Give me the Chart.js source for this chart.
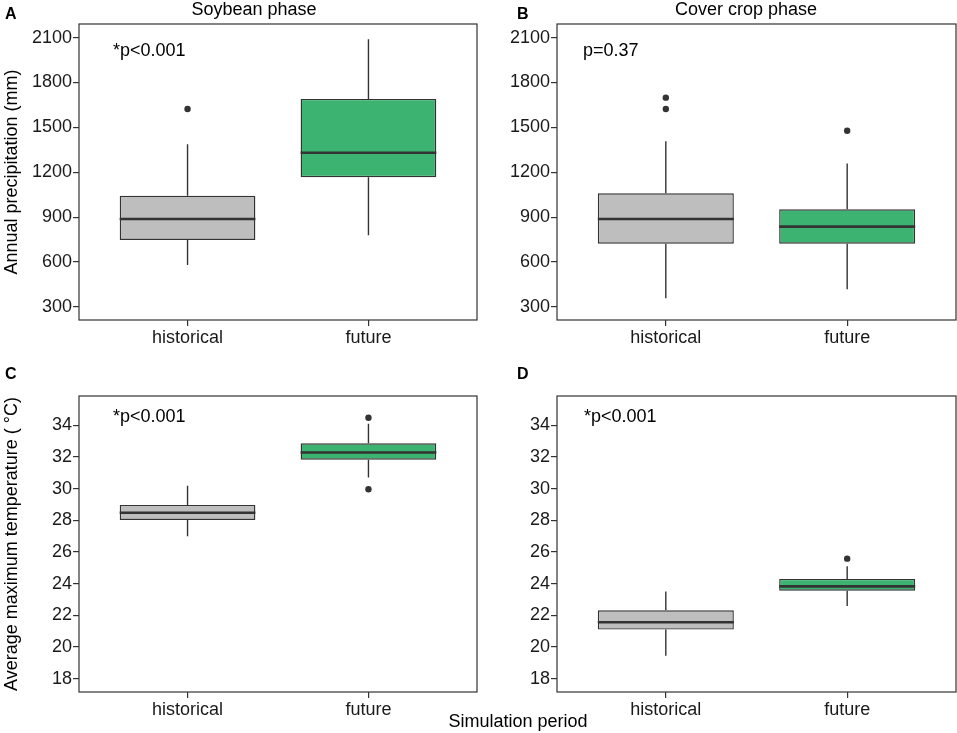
<!DOCTYPE html>
<html>
<head>
<meta charset="utf-8">
<script src="https://cdn.jsdelivr.net/npm/chart.js@4.4.1/dist/chart.umd.min.js"></script>
<style>
	body { margin: 0; background: #fff; }
	#fig { position: relative; width: 957px; height: 733px; background: #fff; font-family: "Liberation Sans", Arial, sans-serif; color: #000; }
	#fig canvas { position: absolute; }
	.txt { position: absolute; font-size: 18px; line-height: 18px; white-space: nowrap; }
	.tag { position: absolute; font-size: 16px; line-height: 16px; font-weight: bold; }
	.rot { position: absolute; width: 400px; text-align: center; font-size: 18px; line-height: 18px; transform: rotate(-90deg); white-space: nowrap; }
</style>
</head>
<body>
<div id="fig">
	<canvas id="cA" width="478" height="352" style="left:0;top:0"></canvas>
	<canvas id="cB" width="479" height="352" style="left:478px;top:0"></canvas>
	<canvas id="cC" width="478" height="381" style="left:0;top:352px"></canvas>
	<canvas id="cD" width="479" height="381" style="left:478px;top:352px"></canvas>

	<div class="tag" style="left:5px;top:6px">A</div>
	<div class="tag" style="left:517px;top:6px">B</div>
	<div class="tag" style="left:5px;top:366px">C</div>
	<div class="tag" style="left:517px;top:366px">D</div>

	<div class="txt" style="left:54px;width:400px;text-align:center;top:0">Soybean phase</div>
	<div class="txt" style="left:546px;width:400px;text-align:center;top:0">Cover crop phase</div>

	<div class="rot" style="left:-189px;top:163px">Annual precipitation (mm)</div>
	<div class="rot" style="left:-189px;top:535px">Average maximum temperature ( °C)</div>
	<div class="txt" style="left:318px;width:400px;text-align:center;top:712px">Simulation period</div>
</div>

<script>
// categories on the x axis
const categories = ['historical', 'future'];

// five-number summaries per category: [lower whisker, Q1, median, Q3, upper whisker]
const soyPrecip = [[581, 748, 888, 1044, 1387], [779, 1167, 1331, 1690, 2089]];
const soyPrecipOut = [[1623], []];
const coverPrecip = [[358, 723, 888, 1060, 1407], [418, 723, 837, 953, 1258]];
const coverPrecipOut = [[1623, 1699], [1478]];

const soyTemp = [[26.99, 28.02, 28.48, 28.97, 30.19], [30.7, 31.83, 32.28, 32.86, 34.1]];
const soyTempOut = [[], [29.96, 34.48]];
const coverTemp = [[19.45, 21.1, 21.56, 22.32, 23.5], [22.59, 23.56, 23.83, 24.3, 25.1]];
const coverTempOut = [[], [25.58]];

// tick labels
const precipTicks = [300, 600, 900, 1200, 1500, 1800, 2100];
const tempTicks = [18, 20, 22, 24, 26, 28, 30, 32, 34];

// p-value notes
const pNotes = ['*p<0.001', 'p=0.37', '*p<0.001', '*p<0.001'];

const boxFill = ['#bebebe', '#3cb371'];
const ink = '#333333';

Chart.defaults.font.family = '"Liberation Sans", Arial, sans-serif';
Chart.defaults.font.size = 18;
Chart.defaults.color = '#1a1a1a';

// whiskers under the boxes, median bars and frame on top
var boxPlugin = {
	id: 'boxPlugin',
	beforeDatasetsDraw: function(chart) {
		var ctx = chart.ctx;
		var y = chart.scales.y;
		var stats = chart.options.plugins.boxPlugin.stats;
		var bars = chart.getDatasetMeta(0).data;
		ctx.save();
		ctx.strokeStyle = ink;
		ctx.lineWidth = 1.4;
		bars.forEach(function(bar, i) {
			var s = stats[i];
			ctx.beginPath();
			ctx.moveTo(bar.x, y.getPixelForValue(s[0]));
			ctx.lineTo(bar.x, y.getPixelForValue(s[1]));
			ctx.moveTo(bar.x, y.getPixelForValue(s[3]));
			ctx.lineTo(bar.x, y.getPixelForValue(s[4]));
			ctx.stroke();
		});
		ctx.restore();
	},
	afterDatasetsDraw: function(chart) {
		var ctx = chart.ctx;
		var y = chart.scales.y;
		var opts = chart.options.plugins.boxPlugin;
		var bars = chart.getDatasetMeta(0).data;
		var area = chart.chartArea;
		ctx.save();
		ctx.strokeStyle = ink;
		ctx.lineWidth = 2.6;
		bars.forEach(function(bar, i) {
			var py = y.getPixelForValue(opts.stats[i][2]);
			ctx.beginPath();
			ctx.moveTo(bar.x - bar.width / 2, py);
			ctx.lineTo(bar.x + bar.width / 2, py);
			ctx.stroke();
		});
		ctx.lineWidth = 1.2;
		ctx.strokeRect(area.left, area.top, area.right - area.left, area.bottom - area.top);
		ctx.fillStyle = '#000';
		ctx.font = '18px "Liberation Sans", Arial, sans-serif';
		ctx.textBaseline = 'middle';
		ctx.fillText(opts.note, area.left + opts.noteX, area.top + opts.noteY);
		ctx.restore();
	}
};

function makePanel(canvasId, stats, outliers, yTicks, yMin, yMax, padTop, padRight, note, noteX, noteY) {
	var canvas = document.getElementById(canvasId);
	var plotBottom = padTop + 296;

	var outPoints = [];
	outliers.forEach(function(list, i) {
		list.forEach(function(v) { outPoints.push({ x: i + 1, y: v }); });
	});

	return new Chart(canvas.getContext('2d'), {
		type: 'bar',
		data: {
			datasets: [{
				data: stats.map(function(s, i) { return { x: i + 1, y: [s[1], s[3]] }; }),
				backgroundColor: boxFill,
				borderColor: ink,
				borderWidth: 1.4,
				borderSkipped: false,
				categoryPercentage: 1,
				barPercentage: 0.75,
				order: 2
			}, {
				type: 'scatter',
				data: outPoints,
				pointRadius: 3.2,
				pointBackgroundColor: ink,
				pointBorderWidth: 0,
				order: 1
			}]
		},
		options: {
			responsive: false,
			animation: false,
			layout: { autoPadding: false, padding: { top: padTop, right: padRight, left: 0, bottom: 0 } },
			plugins: {
				legend: { display: false },
				tooltip: { enabled: false },
				boxPlugin: { stats: stats, note: note, noteX: noteX, noteY: noteY }
			},
			scales: {
				x: {
					type: 'linear',
					min: 0.4,
					max: 2.6,
					offset: false,
					border: { display: false },
					grid: { offset: false, drawOnChartArea: false, tickLength: 6, color: ink, lineWidth: 1.2 },
					ticks: {
						padding: 1,
						callback: function(v) { return categories[v - 1]; }
					},
					afterBuildTicks: function(axis) {
						axis.ticks = categories.map(function(c, i) { return { value: i + 1 }; });
					},
					afterFit: function(axis) { axis.height = canvas.height - plotBottom; }
				},
				y: {
					min: yMin,
					max: yMax,
					border: { display: false },
					grid: { drawOnChartArea: false, tickLength: 6, color: ink, lineWidth: 1.2 },
					ticks: {
						padding: 1,
						autoSkip: false,
						callback: function(v) { return String(v); }
					},
					afterBuildTicks: function(axis) {
						axis.ticks = yTicks.map(function(v) { return { value: v }; });
					},
					afterFit: function(axis) { axis.width = 79; }
				}
			}
		},
		plugins: [boxPlugin]
	});
}

makePanel('cA', soyPrecip, soyPrecipOut, precipTicks, 213, 2191, 24, 1, pNotes[0], 34, 27);
makePanel('cB', coverPrecip, coverPrecipOut, precipTicks, 213, 2191, 24, 1, pNotes[1], 26, 27);
makePanel('cC', soyTemp, soyTempOut, tempTicks, 17.16, 35.85, 44, 1, pNotes[2], 34, 21);
makePanel('cD', coverTemp, coverTempOut, tempTicks, 17.16, 35.85, 44, 1, pNotes[3], 27, 21);
</script>
</body>
</html>
